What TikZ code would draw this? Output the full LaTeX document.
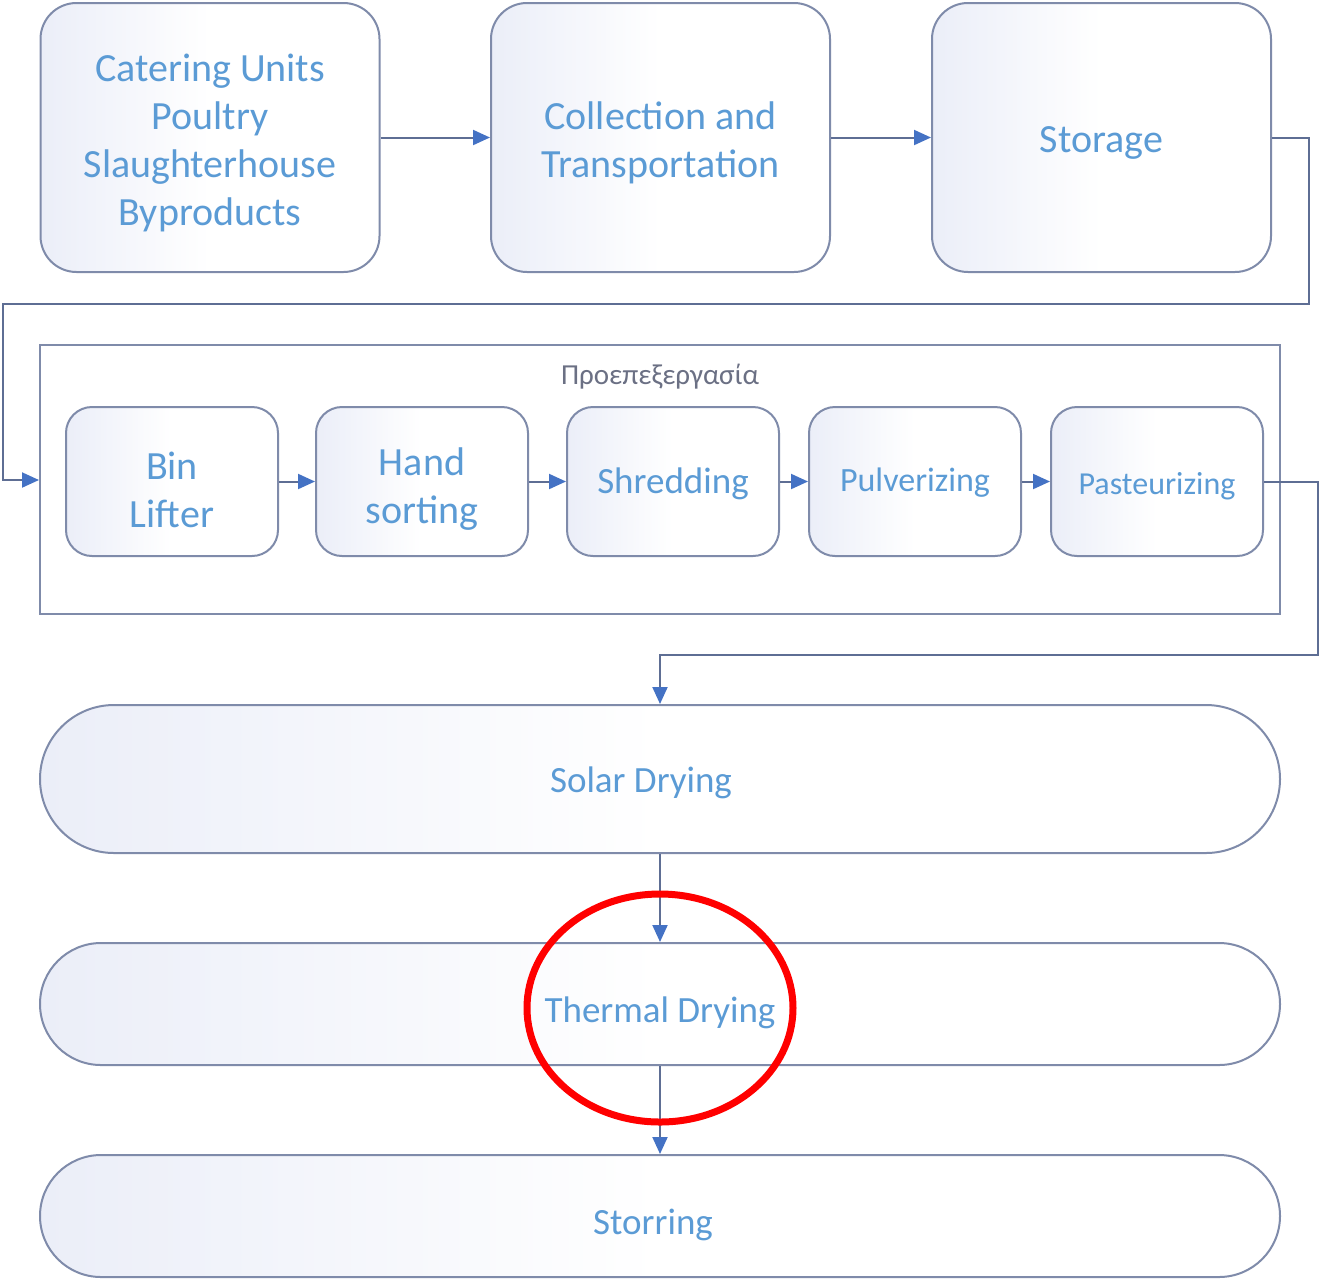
\documentclass[tikz,border=0pt]{standalone}
\usepackage{fontspec}
\setmainfont{Carlito}
\usetikzlibrary{arrows.meta,positioning}

\definecolor{txtblue}{HTML}{5B9BD5}
\definecolor{edgegray}{HTML}{7F8BAA}
\definecolor{linkgray}{HTML}{5E6E94}
\definecolor{tipblue}{HTML}{4472C4}
\definecolor{lavender}{HTML}{EBEEF8}
\definecolor{titlegray}{HTML}{6B7084}

\tikzset{
  stagebox/.style={draw=edgegray, line width=2pt, rounded corners=36pt,
    left color=lavender, right color=white, middle color=white,
    minimum width=339pt, minimum height=269pt},
  prebox/.style={draw=edgegray, line width=2pt, rounded corners=26pt,
    left color=lavender, right color=white, middle color=white,
    minimum width=212pt, minimum height=149pt},
  pillbox/.style={draw=edgegray, line width=2pt,
    left color=lavender, right color=white, middle color=white,
    minimum width=1240pt},
  boxtext/.style={text=txtblue, align=center, font=\fontsize{40}{48}\selectfont},
  pilltext/.style={text=txtblue, font=\fontsize{37}{44}\selectfont},
  link/.style={draw=linkgray, line width=2pt,
    -{Triangle[length=17pt,width=15pt,color=tipblue]}},
}

\begin{document}
\begin{tikzpicture}[x=1pt,y=-1pt]
  \useasboundingbox (0,0) rectangle (1319,1278);

  % main stages
  \node[stagebox, label={[boxtext, yshift=-5pt]center:{Catering Units\\Poultry\\Slaughterhouse\\Byproducts}}]
    (catering) at (210,137.5) {};
  \node[stagebox, label={[boxtext, yshift=-5pt]center:{Collection and\\Transportation}}]
    (collect) at (660.5,137.5) {};
  \node[stagebox, label={[boxtext, yshift=-5pt]center:Storage}]
    (storage) at (1101.5,137.5) {};

  % pre-processing group
  \node[draw=edgegray, line width=2pt, fill=white, minimum width=1240pt,
    minimum height=269pt] (prep) at (660,479.5) {};
  \node[text=titlegray, font=\fontsize{29}{34}\selectfont] (preptitle)
    at (660,377) {Προεπεξεργασία};
  \node[prebox, label={[boxtext, yshift=-8pt]center:{Bin\\Lifter}}]
    (binlift) at (172,481.5) {};
  \node[prebox, label={[boxtext, yshift=-8pt]center:{Hand\\sorting}}]
    (handsort) at (422,481.5) {};
  \node[prebox, label={[boxtext, font=\fontsize{37}{44}\selectfont, yshift=-2pt]center:Shredding}]
    (shred) at (673,481.5) {};
  \node[prebox, label={[boxtext, font=\fontsize{34}{40}\selectfont, yshift=-1pt]center:Pulverizing}]
    (pulver) at (915,481.5) {};
  \node[prebox, label={[boxtext, font=\fontsize{32}{38}\selectfont, yshift=-5pt]center:Pasteurizing}]
    (pasteur) at (1157,481.5) {};

  % drying and storing
  \node[pillbox, minimum height=148pt, rounded corners=74pt,
    label={[pilltext, xshift=-19pt, yshift=-4pt]center:Solar Drying}] (solar) at (660,779) {};
  \node[pillbox, minimum height=122pt, rounded corners=61pt,
    label={[pilltext, yshift=-9pt]center:Thermal Drying}] (thermal) at (660,1004) {};
  \node[pillbox, minimum height=122pt, rounded corners=61pt,
    label={[pilltext, xshift=-7pt, yshift=-9pt]center:Storring}] (storring) at (660,1216) {};

  % connectors
  \draw[link] (catering) -- (collect);
  \draw[link] (collect) -- (storage);
  \coordinate (wrapA) at (1309,304);
  \coordinate (wrapB) at (3,480);
  \draw[link] (storage.east) -| (wrapA) -| (wrapB) -- (prep.west |- wrapB);
  \draw[link] (binlift) -- (handsort);
  \draw[link] (handsort) -- (shred);
  \draw[link] (shred) -- (pulver);
  \draw[link] (pulver) -- (pasteur);
  \coordinate (wrapC) at (1318,655);
  \draw[link] (pasteur.east) -| (wrapC) -| (solar.north);
  \draw[link] (solar) -- (thermal);
  \draw[link] (thermal) -- (storring);

  % highlight
  \draw[red, line width=7pt] (660,1008) ellipse [x radius=133pt, y radius=114pt];
\end{tikzpicture}
\end{document}
